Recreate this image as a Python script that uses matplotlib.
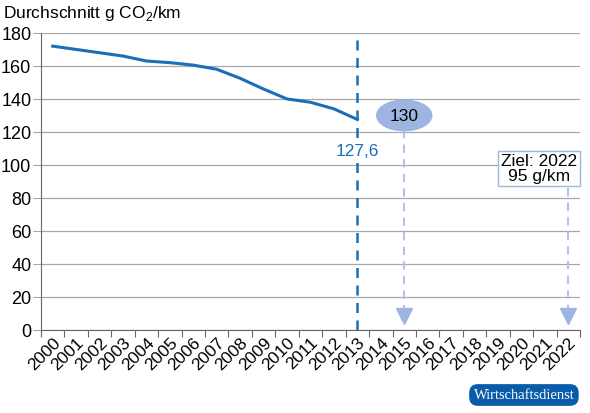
import matplotlib
matplotlib.use('Agg')
import matplotlib.pyplot as plt
from matplotlib.patches import Ellipse

plt.rcParams['font.family'] = ['Liberation Sans', 'DejaVu Sans']
plt.rcParams['mathtext.fontset'] = 'custom'
plt.rcParams['mathtext.rm'] = 'Liberation Sans'

years = [str(y) for y in range(2000, 2023)]
hist_years = list(range(2000, 2014))
co2 = [172, 170, 168, 166, 163, 162, 160.5, 158, 152.5, 146, 140, 138, 134, 127.6]
last_value = 127.6
target_2015 = 130
target_2022 = 95

blue = '#1a6fb8'
light = '#9db5e0'

fig = plt.figure(figsize=(5.9, 4.14), dpi=100)
ax = fig.add_axes([0.0695, 0.2005, 0.9135, 0.7175])

x = [y - 2000 for y in hist_years]
ax.plot(x, co2, color=blue, lw=2.2, solid_joinstyle='round', zorder=3)

ax.set_xlim(-0.5, 22.5)
ax.set_ylim(0, 180)
ax.set_yticks(range(0, 181, 20))
ax.grid(axis='y', color='#a8a8a8', lw=0.9)
ax.set_axisbelow(True)

# tick marks on category boundaries, labels at centers
ax.set_xticks([i - 0.5 for i in range(24)])
ax.set_xticklabels([])
ax.set_xticks(range(23), minor=True)
ax.set_xticklabels(years, minor=True, rotation=45, ha='right', rotation_mode='anchor', fontsize=12.5)
ax.tick_params(axis='x', which='minor', length=0, pad=3)
ax.tick_params(axis='x', which='major', length=5, color='#666666')
ax.tick_params(axis='y', length=6, color='#a8a8a8', labelsize=13, pad=1)

for s in ['top', 'right']:
    ax.spines[s].set_visible(False)
ax.spines['left'].set_color('#666666')
ax.spines['bottom'].set_color('#666666')

# 2013 marker line and value
ax.axvline(13, color=blue, lw=1.8, ls=(0, (4, 3)), zorder=4)
ax.text(13, 109, str(last_value).replace('.', ','),
        color=blue, fontsize=12.5, ha='center', va='center', zorder=6,
        bbox=dict(boxstyle='square,pad=0.1', fc='white', ec='none'))

# 2015 target
ax.add_patch(Ellipse((15, target_2015), 2.35, 18.5, color=light, zorder=5))
ax.text(15, target_2015, str(target_2015), fontsize=12.5, ha='center', va='center', zorder=6)
ax.plot([15, 15], [target_2015 - 9, 12], color='#b0c4ea', lw=1.5, ls=(0, (4, 3)), zorder=4)
ax.plot(15, 8.2, marker='v', ms=11, color=light, zorder=5)

# 2022 target
ax.text(20.75, 98, 'Ziel: 2022\n95 g/km', fontsize=12.5, ha='center', va='center',
        linespacing=1.0, zorder=6,
        bbox=dict(boxstyle='square,pad=0.15', fc='white', ec=light, lw=1))
ax.plot([22, 22], [86, 12], color='#b0c4ea', lw=1.5, ls=(0, (4, 3)), zorder=4)
ax.plot(22, 8.2, marker='v', ms=11, color=light, zorder=5)

fig.text(0.005, 0.968, 'Durchschnitt g CO$_2$/km', fontsize=12.5, ha='left', va='center')

fig.text(0.888, 0.0435, 'Wirtschaftsdienst', fontsize=10.5, color='white', ha='center', va='center',
         family=['Liberation Serif', 'DejaVu Serif'],
         bbox=dict(boxstyle='round,pad=0.3,rounding_size=0.6', fc='#0a5ca8', ec='none'))

fig.savefig('out.png', dpi=100)
